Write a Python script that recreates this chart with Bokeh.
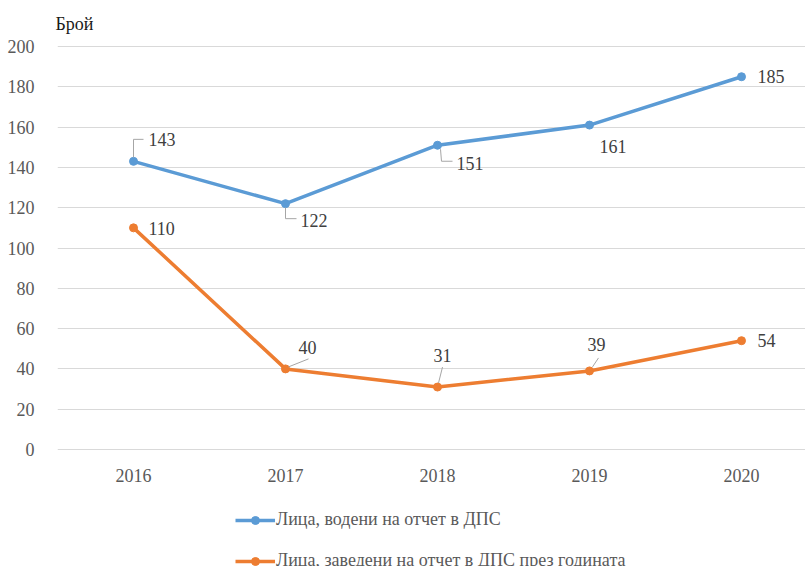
from bokeh.plotting import figure
from bokeh.layouts import column
from bokeh.models import (Range1d, FixedTicker, Legend, LegendItem, ColumnDataSource)
from bokeh.core.properties import value
from bokeh.embed import file_html
from bokeh.resources import INLINE

years = ["2016", "2017", "2018", "2019", "2020"]
series1_name = "Лица, водени на отчет в ДПС"
series2_name = "Лица, заведени на отчет в ДПС през годината"
series1 = [143, 122, 151, 161, 185]
series2 = [110, 40, 31, 39, 54]
y_ticks = [0, 20, 40, 60, 80, 100, 120, 140, 160, 180, 200]
y_title = "Брой"

BLUE = "#5B9BD5"
ORANGE = "#ED7D31"
FONT = "Liberation Serif"
GREY = "#595959"

W = 805
H_MAIN = 495
H_LEG = 71
BL, BT = 57, 45
FW = W - BL
PX_Y = 403 / 200.0
PAD = 1
FH = 403 + 2 * PAD
PX_X = 152.0
x0 = -0.5
x1 = x0 + FW / PX_X

p = figure(frame_width=FW, frame_height=FH, output_backend="svg", toolbar_location=None,
           x_range=Range1d(x0, x1),
           y_range=Range1d(-PAD / PX_Y, 200 + PAD / PX_Y),
           min_border_left=BL, min_border_right=0, min_border_top=BT,
           min_border_bottom=H_MAIN - BT - FH)
p.outline_line_color = None
p.background_fill_color = "white"
p.border_fill_color = "white"

xs = list(range(len(years)))

p.xaxis.ticker = FixedTicker(ticks=xs)
p.xaxis.major_label_overrides = {i: y for i, y in enumerate(years)}
p.yaxis.ticker = FixedTicker(ticks=y_ticks)
for ax in (p.xaxis[0], p.yaxis[0]):
    ax.axis_line_color = None
    ax.major_tick_line_color = None
    ax.minor_tick_line_color = None
    ax.major_label_text_font = FONT
    ax.major_label_text_font_size = "18px"
    ax.major_label_text_color = GREY
p.yaxis.major_label_standoff = 17
p.xaxis.major_label_standoff = 12
p.xgrid.grid_line_color = None
p.ygrid.grid_line_color = "#d9d9d9"
p.ygrid.grid_line_width = 1

l1 = p.line(xs, series1, line_color=BLUE, line_width=3.5)
s1 = p.scatter(xs, series1, size=8, fill_color=BLUE, line_color=BLUE)
l2 = p.line(xs, series2, line_color=ORANGE, line_width=3.5)
s2 = p.scatter(xs, series2, size=8, fill_color=ORANGE, line_color=ORANGE)

def add_labels(vals, offs):
    src = ColumnDataSource(dict(x=xs, y=vals, t=[str(v) for v in vals],
                                xo=[o[0] for o in offs], yo=[o[1] for o in offs]))
    p.text(x="x", y="y", text="t", x_offset="xo", y_offset="yo", source=src,
           text_font=value(FONT), text_font_size="18px", text_color="#404040",
           text_align="left", text_baseline="middle")

off1 = [(15, -22), (15, 17), (19, 18), (10, 21), (16, 0)]
off2 = [(15, 1), (13, -21), (-4, -32), (-2, -26), (16, 0)]
add_labels(series1, off1)
add_labels(series2, off2)

def px(i, v, dx, dy):
    return xs[i] + dx / PX_X, v - dy / PX_Y

leaders = []
a = px(0, series1[0], 0, -4); b = px(0, series1[0], 0, -22); c = px(0, series1[0], 10, -22)
leaders.append(([a[0], b[0], c[0]], [a[1], b[1], c[1]]))
a = px(1, series1[1], 0, 4); b = px(1, series1[1], 0, 15); c = px(1, series1[1], 11, 15)
leaders.append(([a[0], b[0], c[0]], [a[1], b[1], c[1]]))
a = px(2, series1[2], 3, 4); b = px(2, series1[2], 4, 16); c = px(2, series1[2], 15, 16)
leaders.append(([a[0], b[0], c[0]], [a[1], b[1], c[1]]))
a = px(1, series2[1], 3, -2); b = px(1, series2[1], 23, -10)
leaders.append(([a[0], b[0]], [a[1], b[1]]))
a = px(2, series2[2], 1, -4); b = px(2, series2[2], 5, -20)
leaders.append(([a[0], b[0]], [a[1], b[1]]))
a = px(3, series2[3], 3, -4); b = px(3, series2[3], 9, -13)
leaders.append(([a[0], b[0]], [a[1], b[1]]))
p.multi_line([l[0] for l in leaders], [l[1] for l in leaders], line_color="#a6a6a6", line_width=1)

p.title.text = y_title
p.title.text_font = FONT
p.title.text_font_size = "18px"
p.title.text_font_style = "normal"
p.title.text_color = "#1a1a1a"
p.title.align = "left"
p.title.offset = -2
p.title.standoff = 23

# legend figure (below the chart); series drawn out of view, only their legend shows
q = figure(width=W, height=H_LEG, output_backend="svg", toolbar_location=None,
           x_range=Range1d(0, 1), y_range=Range1d(1000, 1001),
           min_border=0, x_axis_location=None, y_axis_location=None)
q.outline_line_color = None
q.xgrid.grid_line_color = None
q.ygrid.grid_line_color = None
ql1 = q.line(xs, series1, line_color=BLUE, line_width=3.5)
qs1 = q.scatter(xs, series1, size=8, fill_color=BLUE, line_color=BLUE)
ql2 = q.line(xs, series2, line_color=ORANGE, line_width=3.5)
qs2 = q.scatter(xs, series2, size=8, fill_color=ORANGE, line_color=ORANGE)

legend = Legend(items=[LegendItem(label=series1_name, renderers=[ql1, qs1]),
                       LegendItem(label=series2_name, renderers=[ql2, qs2])],
                orientation="vertical", location=(178, -5),
                label_text_font=FONT, label_text_font_size="18px", label_text_color=GREY,
                glyph_width=40, glyph_height=20, label_height=20, label_standoff=1, spacing=20,
                padding=0, margin=0, border_line_color=None, background_fill_alpha=0)
q.add_layout(legend, "center")

layout = column(p, q, spacing=0)
open("out.html", "w").write(file_html(layout, INLINE))
